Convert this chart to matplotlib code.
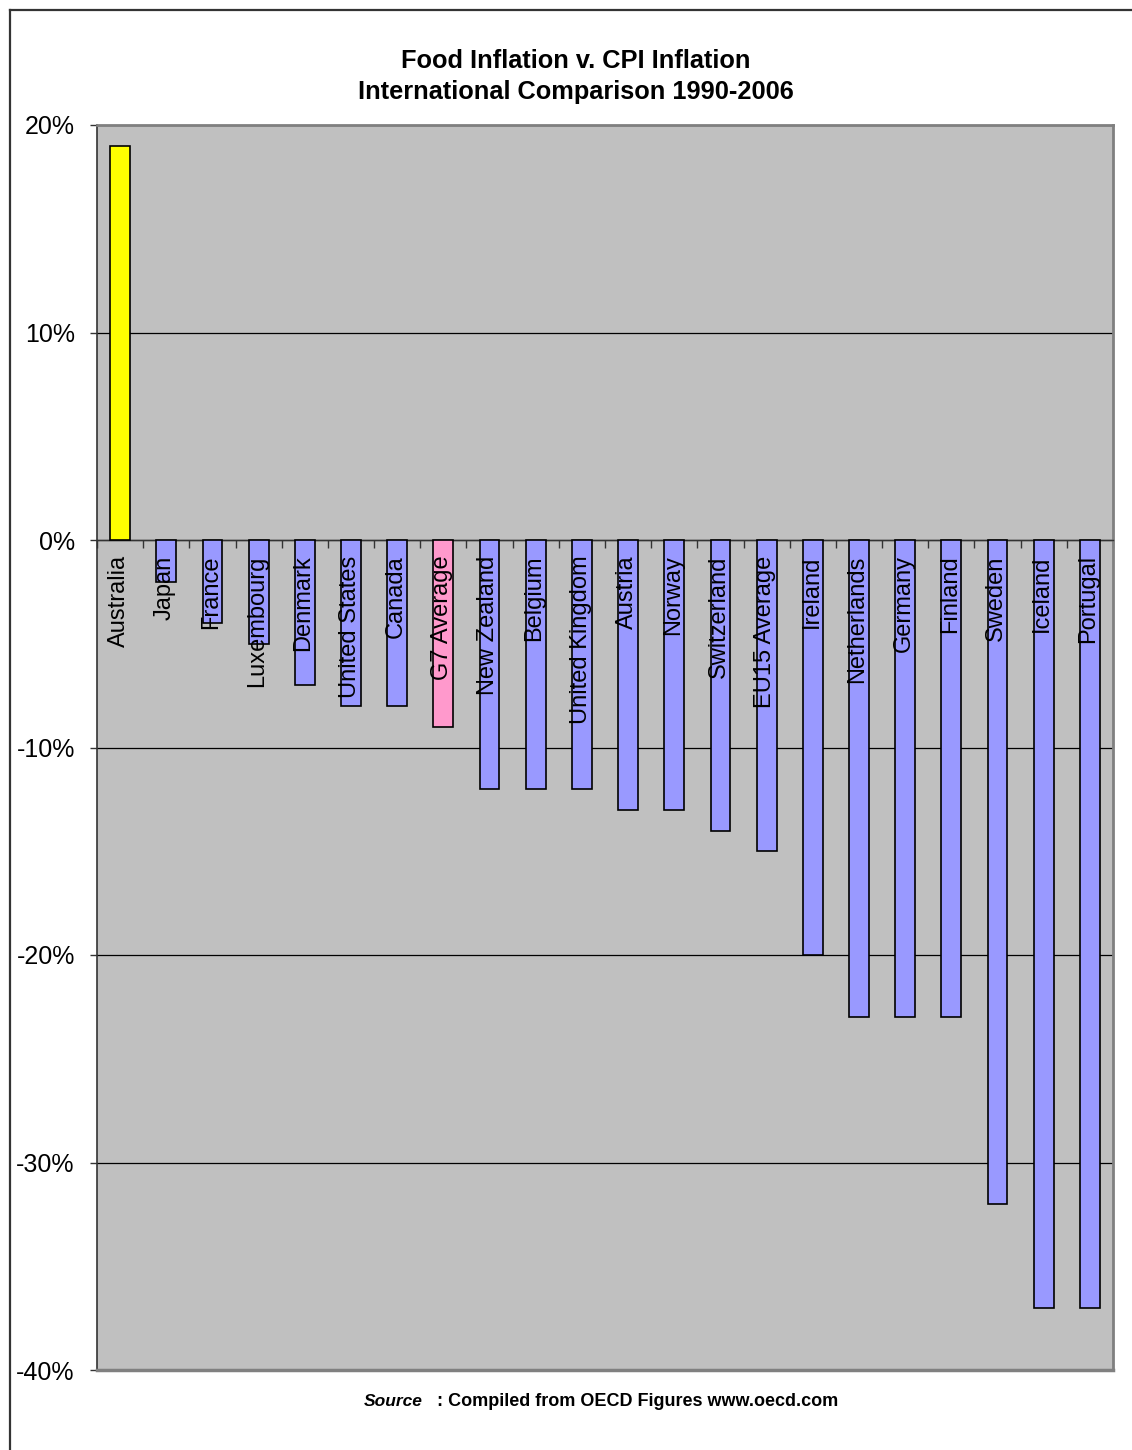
import matplotlib
matplotlib.use("Agg")
import matplotlib.pyplot as plt
from matplotlib.lines import Line2D
from matplotlib.ticker import FixedLocator, NullFormatter
import numpy as np

plt.rcParams['font.family'] = ['Liberation Sans', 'DejaVu Sans']

countries = ["Australia", "Japan", "France", "Luxembourg", "Denmark", "United States",
             "Canada", "G7 Average", "New Zealand", "Belgium", "United Kingdom", "Austria",
             "Norway", "Switzerland", "EU15 Average", "Ireland", "Netherlands", "Germany",
             "Finland", "Sweden", "Iceland", "Portugal"]
values = [19, -2, -4, -5, -7, -8, -8, -9, -12, -12, -12, -13, -13, -14, -15, -20,
          -23, -23, -23, -32, -37, -37]
yticks = [20, 10, 0, -10, -20, -30, -40]
ytick_labels = ["20%", "10%", "0%", "-10%", "-20%", "-30%", "-40%"]

def bar_color(name, v):
    if name == "Australia":
        return "#FFFF00"
    if name == "G7 Average":
        return "#FF99CC"
    return "#9999FF"

colors = [bar_color(c, v) for c, v in zip(countries, values)]

W, H = 1132, 1450
fig = plt.figure(figsize=(W / 100, H / 100), dpi=100)
fig.patch.set_facecolor("white")

# outer border (clipped rectangle)
fig.add_artist(Line2D([10 / W, 10 / W], [0, 1 - 10 / H], transform=fig.transFigure,
                      color="#333333", lw=1.6))
fig.add_artist(Line2D([10 / W, 1], [1 - 10 / H, 1 - 10 / H], transform=fig.transFigure,
                      color="#333333", lw=1.6))

ax = fig.add_axes([97 / W, 1 - 1370 / H, (1113 - 97) / W, (1370 - 125) / H])
ax.set_facecolor("#C0C0C0")

x = np.arange(len(countries))
ax.set_xlim(-0.5, len(countries) - 0.5)
ax.set_ylim(-40, 20)

for yv in yticks:
    ax.axhline(yv, color="black", lw=0.9, zorder=1)

ax.bar(x, values, width=0.43, color=colors, edgecolor="black", linewidth=1.2, zorder=3)

for i, name in enumerate(countries):
    ax.annotate(name, xy=(i, 0), xytext=(-1, -11), textcoords="offset points",
                rotation=90, ha="center", va="top", fontsize=17, color="black", zorder=4)

ax.set_yticks(yticks)
ax.set_yticklabels(ytick_labels, fontsize=18)
ax.tick_params(axis="y", direction="out", length=5, width=1, color="#333333", pad=11)

ax.spines["bottom"].set_position(("data", 0))
ax.spines["bottom"].set_color("#333333")
ax.spines["bottom"].set_linewidth(1)
ax.xaxis.set_major_locator(FixedLocator([]))
ax.xaxis.set_minor_locator(FixedLocator(np.arange(-0.5, len(countries), 1.0)))
ax.xaxis.set_minor_formatter(NullFormatter())
ax.tick_params(axis="x", which="minor", direction="out", length=6, width=1, color="#333333")

ax.spines["left"].set_color("#333333")
ax.spines["left"].set_linewidth(1.2)
for s in ["top", "right"]:
    ax.spines[s].set_color("#808080")
    ax.spines[s].set_linewidth(2)
ax.axhline(-40, color="#808080", lw=2.5, zorder=5, clip_on=False)

fig.text(576 / W, 1 - 61 / H, "Food Inflation v. CPI Inflation", ha="center", va="center",
         fontsize=18.3, fontweight="bold")
fig.text(576 / W, 1 - 92 / H, "International Comparison 1990-2006", ha="center", va="center",
         fontsize=18.3, fontweight="bold")

fig.text(423 / W, 1 - 1402 / H, "Source", ha="right", va="center", fontsize=12.5,
         fontweight="bold", fontstyle="italic")
fig.text(437 / W, 1 - 1402 / H, ": Compiled from OECD Figures www.oecd.com", ha="left",
         va="center", fontsize=13, fontweight="bold")

fig.savefig("out.png", dpi=100)
